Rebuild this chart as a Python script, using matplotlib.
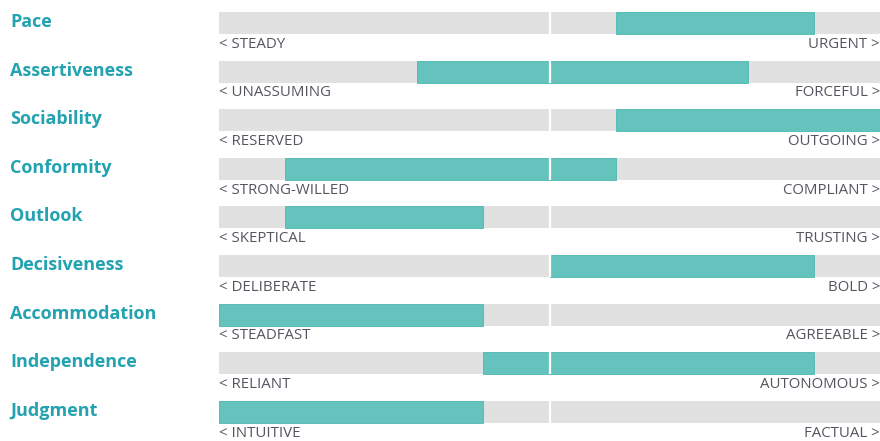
import matplotlib
matplotlib.use("Agg")
import matplotlib.pyplot as plt

# Trait data: name, left/right labels, bar start/end on a 0-10 scale
traits = ["Pace", "Assertiveness", "Sociability", "Conformity", "Outlook",
          "Decisiveness", "Accommodation", "Independence", "Judgment"]
left_labels = ["STEADY", "UNASSUMING", "RESERVED", "STRONG-WILLED", "SKEPTICAL",
               "DELIBERATE", "STEADFAST", "RELIANT", "INTUITIVE"]
right_labels = ["URGENT", "FORCEFUL", "OUTGOING", "COMPLIANT", "TRUSTING",
                "BOLD", "AGREEABLE", "AUTONOMOUS", "FACTUAL"]
starts = [6, 3, 6, 1, 1, 5, 0, 4, 0]
ends = [9, 8, 10, 6, 4, 9, 4, 9, 4]

TEAL = "#64c4bd"
TITLE = "#23a2b0"
GRAY = "#e1e1e1"
TEXT = "#555560"

fig = plt.figure(figsize=(8.8, 4.41), dpi=100)
plt.rcParams['font.family'] = ['Open Sans', 'DejaVu Sans']

# bar area: x 219..880 px, full figure height
ax = fig.add_axes([219 / 880, 0, 1 - 219 / 880, 1])
pitch = 48.6
ax.set_xlim(0, 10)
ax.set_ylim(441 / pitch - 0.473, -0.473)
ax.axis("off")

bh = 22 / pitch
for i in range(len(traits)):
    ax.barh(i, 10, left=0, height=bh, color=GRAY, linewidth=0)
    ax.barh(i, ends[i] - starts[i], left=starts[i], height=bh,
            color=TEAL, edgecolor="#4db8b0", linewidth=0.6)
    ax.plot([5, 5], [i - bh / 2, i + bh / 2], color="white", lw=1.6,
            solid_capstyle="butt")
    ax.text(0.0, i + 0.44, "< " + left_labels[i], ha="left", va="center",
            fontsize=10.8, color=TEXT)
    ax.text(10.0, i + 0.44, right_labels[i] + " >", ha="right", va="center",
            fontsize=10.8, color=TEXT)

# trait titles on the left
tax = fig.add_axes([0, 0, 219 / 880, 1])
tax.set_xlim(0, 219)
tax.set_ylim(441 / pitch - 0.473, -0.473)
tax.axis("off")
for i, name in enumerate(traits):
    tax.text(10, i - 0.02, name, ha="left", va="center", fontsize=13,
             fontweight="bold", color=TITLE)

fig.savefig("out.png", dpi=100)
